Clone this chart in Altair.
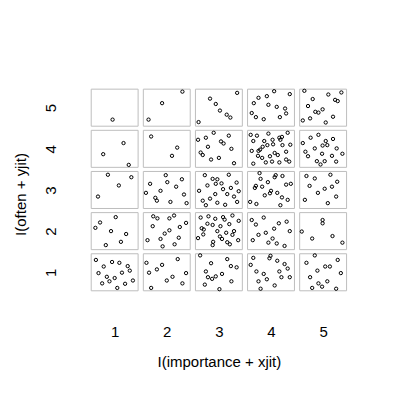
import altair as alt
import pandas as pd

# jittered importance (x) and often (y) values, grouped by cell
xs = [
    # (1,5)
    0.96,
    # (2,5)
    2.30, 1.91, 1.65,
    # (3,5)
    3.35, 2.83, 2.94, 3.02, 3.15, 3.22, 2.61,
    # (4,5)
    4.06, 3.92, 3.76, 4.36, 3.67, 3.95, 4.11, 4.27, 3.63, 4.29, 3.71, 3.86, 4.17,
    # (5,5)
    4.64, 5.35, 5.10, 4.80, 5.23, 5.28, 4.71, 4.99, 4.85, 4.91, 5.19, 4.75, 4.61, 5.05,
    # (1,4)
    1.17, 0.78, 1.27,
    # (2,4)
    1.70, 2.20, 2.10,
    # (3,4)
    2.90, 2.75, 2.60, 3.19, 3.04, 3.09, 2.79, 3.24, 2.65, 2.69, 2.85, 3.00, 3.29,
    # (4,4)
    3.61, 3.73, 3.95, 4.32, 3.66, 3.87, 4.03, 4.16, 4.21, 4.18, 3.79, 3.84, 3.76,
    3.93, 4.04, 4.22, 4.37, 3.63, 3.75, 3.83, 3.98, 4.07, 4.13, 4.29, 3.66, 3.90,
    4.02, 4.16, 4.29, 4.35,
    # (5,4)
    4.61, 4.76, 4.91, 5.05, 5.08, 5.19, 4.99, 5.26, 4.66, 4.84, 4.71, 4.98, 5.17,
    5.37, 4.88, 4.95, 5.03, 5.25,
    # (1,3)
    0.87, 1.32, 1.08, 0.68,
    # (2,3)
    1.98, 2.01, 1.68, 2.29, 2.18, 1.60, 1.88, 2.33, 1.78, 1.81, 2.07, 2.38,
    # (3,3)
    2.73, 2.88, 2.97, 3.19, 3.05, 2.94, 2.78, 3.34, 2.62, 3.08, 3.23, 3.38, 2.93,
    3.16, 3.29, 2.83, 2.69, 2.97, 2.75, 3.12, 3.35,
    # (4,3)
    3.78, 3.80, 4.07, 4.09, 4.22, 3.94, 3.71, 3.69, 3.83, 4.29, 4.38, 4.00, 3.98,
    3.88, 4.12, 4.21, 4.32, 3.60, 3.72, 4.18,
    # (5,3)
    4.68, 4.84, 5.14, 5.27, 4.74, 5.03, 5.17, 4.90, 5.25, 4.65, 5.09,
    # (1,2)
    1.02, 0.72, 0.63, 0.93, 1.22, 1.12, 0.83,
    # (2,2)
    1.74, 1.82, 2.05, 2.14, 1.73, 2.25, 2.37, 2.05, 1.96, 1.88, 2.23, 1.63, 1.92, 2.15,
    # (3,2)
    2.65, 2.80, 2.93, 3.08, 3.11, 3.26, 3.38, 2.78, 2.88, 3.03, 3.20, 2.67, 2.71,
    2.97, 3.14, 3.29, 2.70, 3.02, 3.26, 2.60, 2.89, 2.88, 3.06, 3.16, 3.21, 3.37,
    # (4,2)
    3.63, 3.71, 3.86, 4.15, 4.30, 4.06, 3.90, 3.76, 4.36, 3.65, 4.03, 3.95, 4.11, 4.26,
    # (5,2)
    4.99, 4.99, 4.59, 4.79, 5.18, 5.37,
    # (1,1)
    0.64, 0.79, 0.95, 1.09, 1.25, 1.29, 1.14, 0.69, 0.85, 1.00, 0.90, 0.76, 1.35,
    1.20, 1.05,
    # (2,1)
    1.61, 1.91, 2.21, 1.81, 1.66, 2.37, 2.11, 2.00, 2.30, 1.70,
    # (3,1)
    2.64, 2.85, 2.75, 2.79, 2.87, 2.94, 2.73, 3.01, 3.16, 3.23, 3.34, 3.06, 3.24,
    # (4,1)
    3.66, 3.99, 3.97, 4.12, 4.26, 4.32, 3.61, 3.72, 3.86, 4.16, 4.20, 4.36, 3.76,
    3.92, 4.07, 3.80,
    # (5,1)
    4.84, 4.68, 5.28, 4.89, 5.04, 5.13, 5.34, 4.75, 4.91, 5.08, 4.79, 4.98, 5.25,
]

ys = [
    # (1,5)
    4.71,
    # (2,5)
    5.39, 5.11, 4.71,
    # (3,5)
    5.36, 5.22, 5.09, 4.93, 4.83, 4.76, 4.65,
    # (4,5)
    5.40, 5.28, 5.24, 5.33, 5.11, 5.07, 5.02, 4.98, 4.87, 4.86, 4.77, 4.72, 4.77,
    # (5,5)
    5.41, 5.37, 5.32, 5.21, 5.19, 5.16, 5.04, 4.96, 4.90, 4.88, 4.78, 4.74, 4.69, 4.64,
    # (1,4)
    4.14, 3.87, 3.61,
    # (2,4)
    4.30, 4.03, 3.83,
    # (3,4)
    4.39, 4.27, 4.22, 4.32, 4.18, 4.13, 4.05, 4.00, 3.91, 3.85, 3.74, 3.78, 3.65,
    # (4,4)
    4.34, 4.32, 4.37, 4.39, 4.19, 4.19, 4.22, 4.27, 4.29, 4.22, 3.98, 4.05, 3.95,
    4.09, 4.11, 4.09, 4.10, 3.95, 3.83, 3.78, 3.82, 3.90, 3.85, 3.93, 3.64, 3.67,
    3.69, 3.67, 3.74, 3.69,
    # (5,4)
    4.14, 4.27, 4.34, 4.19, 4.09, 4.24, 4.08, 4.01, 3.93, 4.01, 3.82, 3.88, 3.83,
    3.88, 3.70, 3.62, 3.70, 3.69,
    # (1,3)
    3.37, 3.31, 3.11, 2.84,
    # (2,3)
    3.36, 3.19, 3.15, 3.26, 3.08, 2.93, 2.98, 2.89, 2.81, 2.74, 2.71, 2.68,
    # (3,3)
    3.36, 3.27, 3.26, 3.37, 3.16, 3.15, 3.11, 3.18, 2.98, 3.02, 3.05, 2.97, 2.90,
    2.90, 2.84, 2.79, 2.74, 2.69, 2.63, 2.64, 2.71,
    # (4,3)
    3.41, 3.27, 3.31, 3.36, 3.34, 3.19, 3.10, 3.05, 3.08, 3.13, 3.15, 2.98, 2.92,
    2.87, 2.93, 2.82, 2.76, 2.71, 2.66, 2.63,
    # (5,3)
    3.34, 3.28, 3.37, 3.20, 3.10, 3.03, 3.08, 2.93, 2.84, 2.76, 2.68,
    # (1,2)
    2.34, 2.21, 2.08, 2.00, 1.93, 1.74, 1.66,
    # (2,2)
    2.36, 2.31, 2.31, 2.38, 2.12, 2.10, 2.20, 2.02, 1.94, 1.81, 1.84, 1.78, 1.63, 1.68,
    # (3,2)
    2.33, 2.36, 2.30, 2.34, 2.28, 2.38, 2.25, 2.18, 2.15, 2.12, 2.17, 2.07, 2.04,
    2.00, 1.96, 2.00, 1.92, 1.87, 1.91, 1.83, 1.74, 1.66, 1.81, 1.73, 1.68, 1.78,
    # (4,2)
    2.27, 2.16, 2.33, 2.19, 2.23, 2.06, 1.96, 1.91, 2.00, 1.78, 1.82, 1.72, 1.70, 1.64,
    # (5,2)
    2.27, 2.19, 1.99, 1.82, 1.88, 1.72,
    # (1,1)
    1.30, 1.14, 1.25, 1.23, 1.15, 1.04, 0.99, 0.98, 0.89, 0.86, 0.78, 0.73, 0.80,
    0.72, 0.62,
    # (2,1)
    1.23, 1.18, 1.32, 1.07, 0.99, 0.98, 0.89, 0.80, 0.73, 0.62,
    # (3,1)
    1.41, 1.22, 1.02, 0.88, 0.84, 0.90, 0.70, 0.59, 1.32, 1.15, 1.12, 0.96, 0.78,
    # (4,1)
    1.35, 1.40, 1.34, 1.28, 1.20, 1.09, 1.18, 1.02, 0.96, 1.02, 0.88, 0.88, 0.78,
    0.83, 0.68, 0.60,
    # (5,1)
    1.41, 1.23, 1.30, 1.04, 1.14, 1.14, 0.98, 0.88, 0.73, 0.78, 0.62, 0.65, 0.60,
]

levels = [1, 2, 3, 4, 5]
x_title = "I(importance + xjit)"
y_title = "I(often + yjit)"

points = pd.DataFrame({"x": xs, "y": ys})
cells = pd.DataFrame([{"i": i, "j": j} for i in levels for j in levels])

xscale = alt.Scale(domain=[0.4, 5.6], nice=False, zero=False)
yscale = alt.Scale(domain=[0.2, 5.6], nice=False, zero=False)

FONT = "Liberation Sans"

xaxis = alt.Axis(
    values=levels, title=x_title, grid=False, domain=False, ticks=False, tickSize=0,
    labelFont=FONT, labelFontSize=15, labelColor="black", labelBaseline="alphabetic",
    labelPadding=31.5, labelAngle=0,
    titleFont=FONT, titleFontSize=15, titleFontWeight="normal", titleColor="black",
    titleBaseline="alphabetic", titleAlign="center", titleX=135.5, titleY=61.5,
)
yaxis = alt.Axis(
    values=levels, title=y_title, grid=False, domain=False, ticks=False, tickSize=0,
    labelFont=FONT, labelFontSize=15, labelColor="black", labelAngle=270,
    labelAlign="center", labelBaseline="alphabetic", labelPadding=27.9,
    titleFont=FONT, titleFontSize=15, titleFontWeight="normal", titleColor="black",
    titleAngle=270, titleAlign="center", titleBaseline="alphabetic",
    titleX=-57.7, titleY=111,
)

boxes = alt.Chart(cells).transform_calculate(
    x1="datum.i - 0.45", x2="datum.i + 0.45",
    y1="datum.j - 0.45", y2="datum.j + 0.45",
).mark_rect(fill="white", fillOpacity=0, stroke="#BEBEBE", strokeWidth=1).encode(
    x=alt.X("x1:Q", scale=xscale, axis=xaxis),
    x2="x2:Q",
    y=alt.Y("y1:Q", scale=yscale, axis=yaxis),
    y2="y2:Q",
)

dots = alt.Chart(points).mark_point(
    shape="circle", filled=False, color="black", size=11, strokeWidth=1, opacity=1
).encode(
    x=alt.X("x:Q", scale=xscale, axis=xaxis),
    y=alt.Y("y:Q", scale=yscale, axis=yaxis),
)

chart = alt.layer(boxes, dots).properties(
    width=271,
    height=222.2,
    autosize=alt.AutoSizeParams(type="none"),
    padding={"left": 75.4, "top": 75, "right": 30, "bottom": 85},
    background="white",
).configure_view(stroke=None)

chart.save("out.html", embed_options={"renderer": "svg", "actions": False})
